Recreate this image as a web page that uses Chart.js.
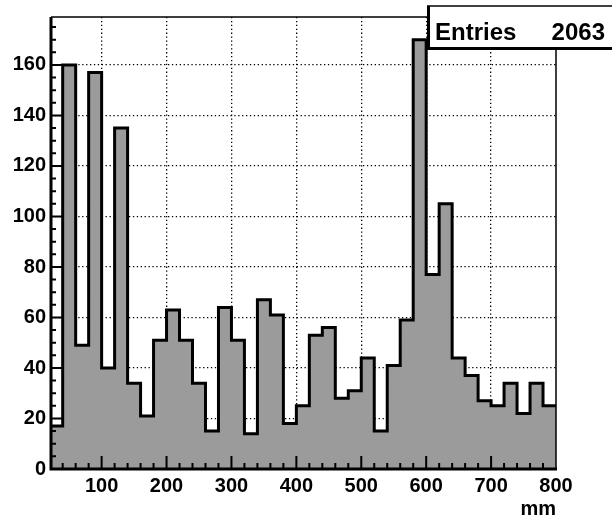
<!DOCTYPE html>
<html>
<head>
<meta charset="utf-8">
<script src="https://cdn.jsdelivr.net/npm/chart.js@4"></script>
<style>
  body { margin: 0; background: #fff; }
</style>
</head>
<body>
<canvas id="histo" width="612" height="516"></canvas>
<script>
// bin low edges (mm) and counts per bin
const binEdges = [20, 40, 60, 80, 100, 120, 140, 160, 180, 200, 220, 240, 260, 280, 300, 320, 340, 360, 380,
                  400, 420, 440, 460, 480, 500, 520, 540, 560, 580, 600, 620, 640, 660, 680, 700, 720, 740, 760, 780];
const counts = [17, 160, 49, 157, 40, 135, 34, 21, 51, 63, 51, 34, 15, 64, 51, 14, 67, 61, 18,
                25, 53, 56, 28, 31, 44, 15, 41, 59, 170, 77, 105, 44, 37, 27, 25, 34, 22, 34, 25];
const binWidth = 20;
const xTicks = [100, 200, 300, 400, 500, 600, 700, 800];
const yTicks = [0, 20, 40, 60, 80, 100, 120, 140, 160];
const entries = 2063;

// step points: each bin's low edge, plus the upper edge of the last bin
const points = binEdges.map((e, i) => ({ x: e, y: counts[i] }));
points.push({ x: binEdges[binEdges.length - 1] + binWidth, y: counts[counts.length - 1] });

Chart.defaults.font.family = '"Liberation Sans", Arial, sans-serif';
Chart.defaults.font.weight = 'bold';
Chart.defaults.color = '#000';

// ROOT style frame: ticks drawn inside, thick axes, stats box
const rootFrame = {
  id: 'rootFrame',
  afterDatasetsDraw(chart) {
    const { ctx, chartArea: a, scales: { x, y } } = chart;
    ctx.save();
    ctx.strokeStyle = '#000';
    ctx.lineWidth = 2;
    ctx.beginPath();
    for (let v = 40; v < 800; v += 20) {
      const px = x.getPixelForValue(v);
      const len = v % 100 === 0 ? 13 : 6;
      ctx.moveTo(px, a.bottom);
      ctx.lineTo(px, a.bottom - len);
    }
    for (let v = 5; v < 179; v += 5) {
      const py = y.getPixelForValue(v);
      const len = v % 20 === 0 ? 11 : 5;
      ctx.moveTo(a.left, py);
      ctx.lineTo(a.left + len, py);
    }
    ctx.stroke();

    // thin top / right
    ctx.lineWidth = 1.5;
    ctx.beginPath();
    ctx.moveTo(a.left, a.top);
    ctx.lineTo(a.right, a.top);
    ctx.lineTo(a.right, a.bottom);
    ctx.stroke();
    // thick left / bottom axes
    ctx.lineWidth = 3;
    ctx.beginPath();
    ctx.moveTo(a.left, a.top);
    ctx.lineTo(a.left, a.bottom);
    ctx.lineTo(a.right + 1, a.bottom);
    ctx.stroke();
    ctx.restore();
  },
  afterDraw(chart) {
    const ctx = chart.ctx;
    ctx.save();
    ctx.fillStyle = '#fff';
    ctx.fillRect(427, 6, 200, 43);
    ctx.strokeStyle = '#000';
    ctx.lineWidth = 1.5;
    ctx.beginPath();
    ctx.moveTo(427, 6);
    ctx.lineTo(620, 6);
    ctx.stroke();
    ctx.lineWidth = 3;
    ctx.beginPath();
    ctx.moveTo(428.5, 6);
    ctx.lineTo(428.5, 48.5);
    ctx.lineTo(620, 48.5);
    ctx.stroke();
    ctx.fillStyle = '#000';
    ctx.font = 'bold 24px "Liberation Sans", Arial, sans-serif';
    ctx.textBaseline = 'alphabetic';
    ctx.textAlign = 'left';
    ctx.fillText('Entries', 435, 40);
    ctx.textAlign = 'right';
    ctx.fillText(String(entries), 605, 40);
    ctx.restore();
  }
};

const noEdge = (edge) => (c) => (c.tick && c.tick.value === edge ? 'rgba(0,0,0,0)' : '#000');

new Chart(document.getElementById('histo'), {
  type: 'line',
  data: {
    datasets: [{
      data: points,
      stepped: 'before',
      fill: 'origin',
      backgroundColor: '#9b9b9b',
      borderColor: '#000',
      borderWidth: 3,
      borderJoinStyle: 'miter',
      pointRadius: 0
    }]
  },
  options: {
    responsive: false,
    animation: false,
    events: [],
    layout: { padding: { top: 8, right: 56, left: 0, bottom: 0 } },
    plugins: { legend: { display: false }, tooltip: { enabled: false } },
    scales: {
      x: {
        type: 'linear',
        min: 22,
        max: 800,
        afterBuildTicks: (s) => { s.ticks = xTicks.map(v => ({ value: v })); },
        afterFit: (s) => { s.height = 47; },
        border: { display: false, dash: [1.3, 2.6] },
        grid: { color: noEdge(800), lineWidth: 1.3, drawTicks: false },
        ticks: { font: { size: 20, weight: 'bold' }, padding: 5, maxRotation: 0 },
        title: {
          display: true, text: 'mm', align: 'end',
          font: { size: 20, weight: 'bold', lineHeight: 0.7 },
          padding: { top: 0, bottom: 0 }
        }
      },
      y: {
        min: 0,
        max: 179,
        afterBuildTicks: (s) => { s.ticks = yTicks.map(v => ({ value: v })); },
        afterFit: (s) => { s.width = 51; },
        border: { display: false, dash: [1.3, 2.6] },
        grid: { color: noEdge(0), lineWidth: 1.3, drawTicks: false },
        ticks: { font: { size: 20, weight: 'bold' }, padding: 5 }
      }
    }
  },
  plugins: [rootFrame]
});
</script>
</body>
</html>
